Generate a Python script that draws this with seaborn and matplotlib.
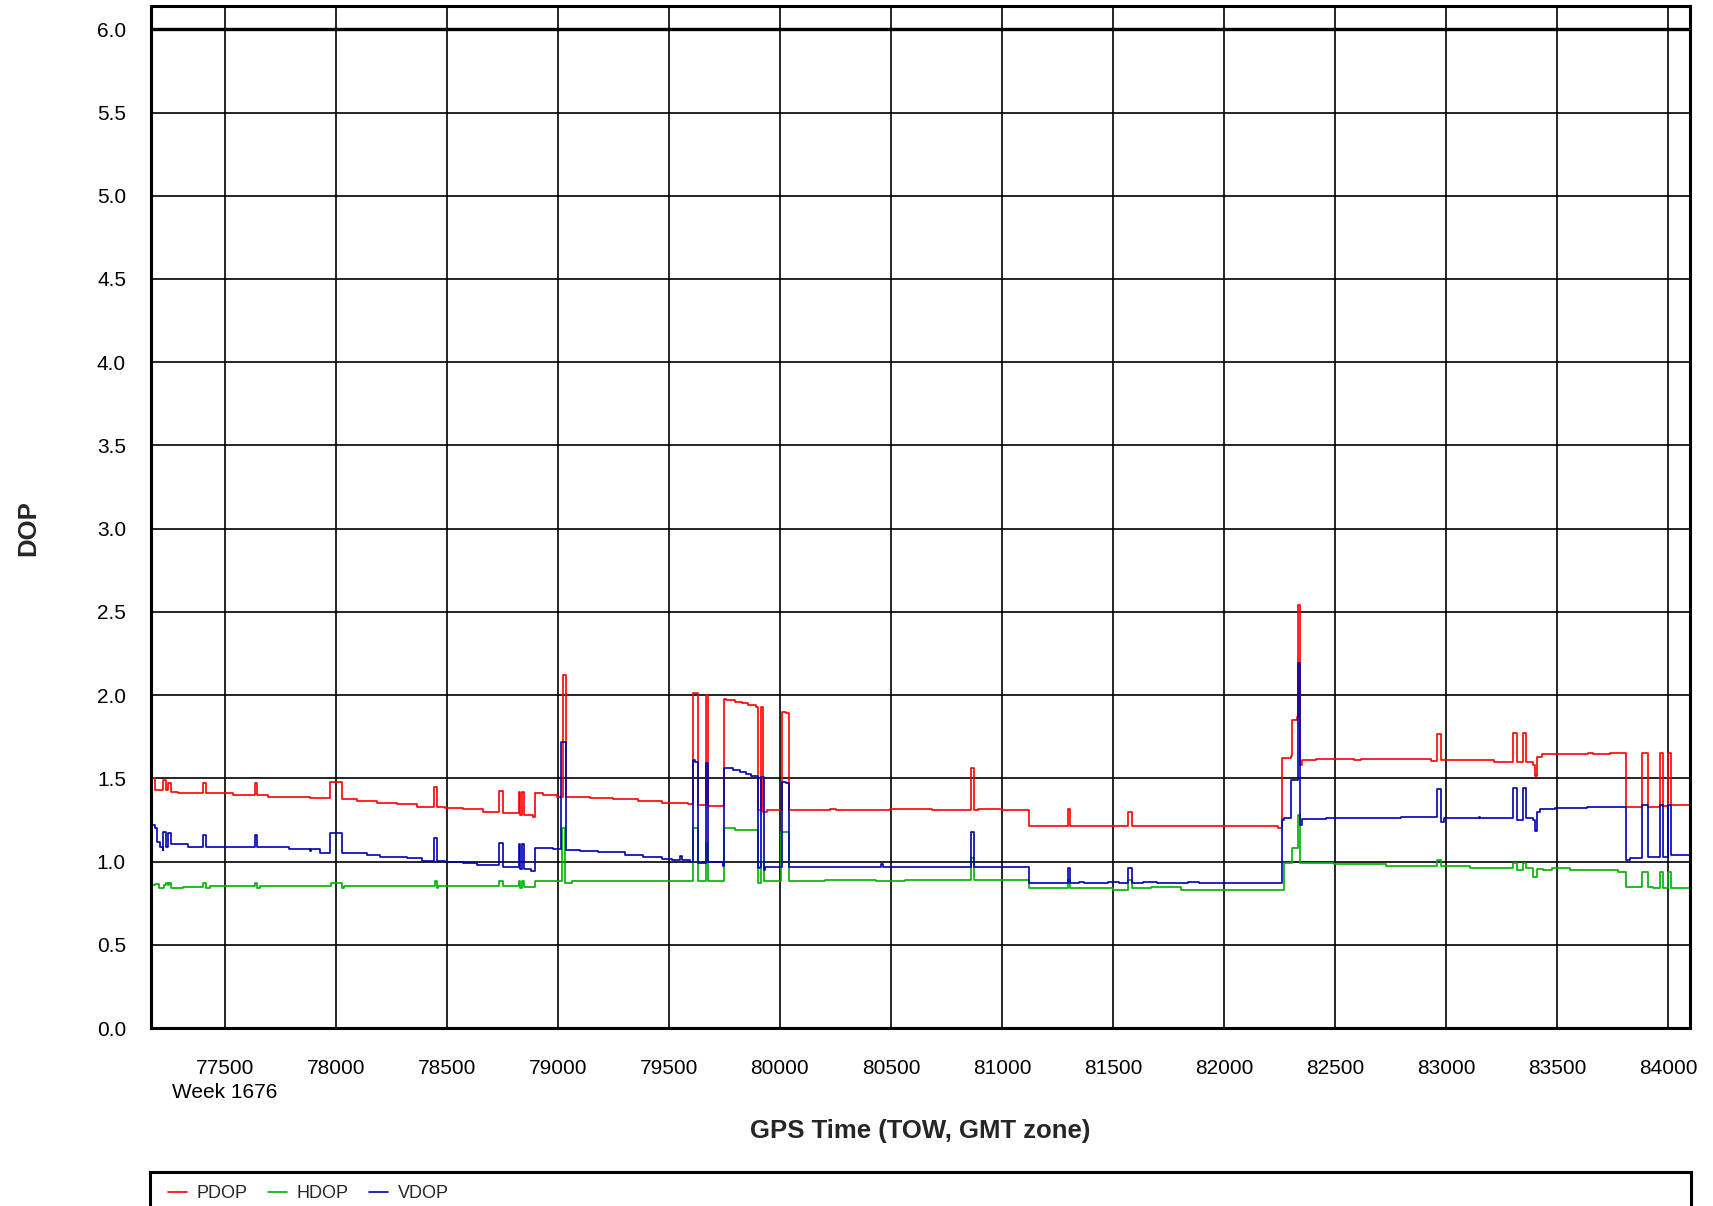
import matplotlib
matplotlib.use("Agg")
import matplotlib.pyplot as plt
import seaborn as sns
import pandas as pd

sns.set_style("white")
plt.rcParams['font.family'] = ['Liberation Sans', 'DejaVu Sans']

# GPS time of week (s) where each DOP value starts, and the value held from there
pdop_t = [77168, 77170, 77184, 77222, 77234, 77244, 77260, 77290, 77402, 77417, 77538, 77635, 77646, 77695,
          77883, 77973, 78026, 78094, 78184, 78274, 78364, 78442, 78454, 78492, 78575, 78665, 78737, 78752,
          78823, 78830, 78838, 78848, 78890, 78898, 78935, 78995, 79025, 79035, 79145, 79250, 79362, 79467,
          79527, 79587, 79609, 79632, 79669, 79677, 79699, 79747, 79759, 79797, 79827, 79857, 79894, 79902,
          79914, 79924, 79942, 80009, 80029, 80041, 80224, 80254, 80494, 80685, 80861, 80876, 80891, 81000,
          81120, 81296, 81308, 81566, 81584, 82241, 82263, 82301, 82308, 82328, 82335, 82343, 82353, 82413,
          82586, 82616, 82930, 82960, 82975, 83214, 83303, 83318, 83344, 83359, 83389, 83401, 83408, 83430,
          83640, 83662, 83737, 83812, 83882, 83909, 83961, 83976, 83999, 84013, 84098]
pdop_v = [1.69, 1.50, 1.43, 1.49, 1.43, 1.47, 1.42, 1.414, 1.47, 1.414, 1.40, 1.47, 1.40, 1.39,
          1.38, 1.48, 1.374, 1.366, 1.354, 1.344, 1.33, 1.45, 1.33, 1.32, 1.314, 1.30, 1.424, 1.29,
          1.42, 1.28, 1.42, 1.28, 1.27, 1.414, 1.40, 1.39, 2.12, 1.39, 1.384, 1.374, 1.364, 1.354,
          1.35, 1.344, 2.014, 1.34, 2.0, 1.336, 1.334, 1.974, 1.97, 1.96, 1.95, 1.94, 1.93, 1.31,
          1.93, 1.30, 1.31, 1.90, 1.894, 1.31, 1.318, 1.31, 1.318, 1.31, 1.564, 1.31, 1.318, 1.31,
          1.214, 1.314, 1.214, 1.30, 1.214, 1.20, 1.62, 1.634, 1.85, 1.87, 2.544, 1.58, 1.61, 1.616,
          1.61, 1.616, 1.606, 1.764, 1.61, 1.60, 1.77, 1.60, 1.77, 1.596, 1.58, 1.514, 1.63, 1.644,
          1.652, 1.644, 1.654, 1.33, 1.65, 1.33, 1.65, 1.336, 1.65, 1.34, 1.34]

hdop_t = [77168, 77172, 77184, 77206, 77228, 77236, 77244, 77250, 77260, 77313, 77402, 77417, 77432, 77635,
          77646, 77658, 77980, 78026, 78036, 78446, 78454, 78461, 78737, 78752, 78823, 78830, 78838, 78848,
          78898, 79017, 79032, 79062, 79609, 79632, 79669, 79677, 79747, 79797, 79902, 79917, 79927, 80005,
          80041, 80201, 80434, 80561, 80861, 80876, 81120, 81296, 81308, 81498, 81566, 81584, 81670, 81805,
          82271, 82305, 82335, 82343, 82496, 82728, 82960, 82975, 83109, 83303, 83318, 83344, 83359, 83389,
          83408, 83438, 83475, 83557, 83774, 83812, 83882, 83909, 83930, 83961, 83976, 83999, 84013, 84098]
hdop_v = [0.77, 0.86, 0.864, 0.84, 0.86, 0.874, 0.86, 0.874, 0.84, 0.85, 0.87, 0.84, 0.854, 0.87,
          0.84, 0.854, 0.874, 0.84, 0.854, 0.884, 0.84, 0.854, 0.884, 0.854, 0.884, 0.84, 0.884, 0.85,
          0.884, 1.2, 0.87, 0.884, 1.2, 0.884, 1.11, 0.884, 1.2, 1.19, 0.87, 1.0, 0.884, 1.18,
          0.884, 0.892, 0.884, 0.892, 1.02, 0.892, 0.84, 0.89, 0.84, 0.83, 0.89, 0.84, 0.846, 0.83,
          0.99, 1.084, 1.28, 0.994, 0.984, 0.974, 1.01, 0.974, 0.96, 0.99, 0.95, 0.99, 0.96, 0.91,
          0.956, 0.95, 0.96, 0.95, 0.94, 0.846, 0.94, 0.846, 0.84, 0.94, 0.84, 0.94, 0.84, 0.84]

vdop_t = [77168, 77169, 77172, 77184, 77195, 77210, 77220, 77222, 77234, 77244, 77260, 77335, 77402, 77417,
          77635, 77646, 77790, 77883, 77890, 77928, 77973, 78026, 78140, 78200, 78320, 78387, 78442, 78454,
          78492, 78575, 78635, 78737, 78752, 78823, 78830, 78838, 78848, 78880, 78898, 78980, 79015, 79035,
          79100, 79182, 79302, 79385, 79467, 79512, 79550, 79557, 79594, 79609, 79617, 79632, 79666, 79675,
          79687, 79744, 79747, 79789, 79819, 79849, 79872, 79902, 79909, 79917, 79927, 79932, 80009, 80029,
          80041, 80456, 80463, 80861, 80876, 81120, 81296, 81308, 81348, 81370, 81476, 81528, 81566, 81584,
          81633, 81700, 81836, 81885, 82263, 82271, 82301, 82331, 82341, 82353, 82458, 82795, 82960, 82975,
          82990, 83146, 83154, 83303, 83318, 83344, 83359, 83389, 83401, 83408, 83423, 83490, 83632, 83812,
          83827, 83882, 83909, 83961, 83976, 83999, 84013, 84098]
vdop_v = [1.30, 1.51, 1.22, 1.20, 1.12, 1.09, 1.07, 1.18, 1.09, 1.17, 1.104, 1.09, 1.16, 1.09,
          1.16, 1.09, 1.074, 1.064, 1.074, 1.054, 1.17, 1.054, 1.04, 1.03, 1.02, 1.006, 1.14, 1.006,
          1.0, 0.99, 0.98, 1.11, 0.97, 1.104, 0.954, 1.104, 0.954, 0.945, 1.084, 1.074, 1.72, 1.07,
          1.066, 1.056, 1.04, 1.03, 1.016, 1.01, 1.034, 1.01, 0.996, 1.61, 1.60, 0.994, 1.59, 1.0,
          0.996, 0.976, 1.564, 1.55, 1.536, 1.526, 1.516, 0.96, 0.97, 1.51, 0.95, 0.97, 1.48, 1.47,
          0.97, 0.984, 0.97, 1.18, 0.97, 0.87, 0.96, 0.87, 0.88, 0.87, 0.88, 0.87, 0.96, 0.87,
          0.88, 0.87, 0.88, 0.87, 1.25, 1.26, 1.49, 2.19, 1.22, 1.254, 1.264, 1.27, 1.434, 1.24,
          1.264, 1.27, 1.264, 1.44, 1.25, 1.44, 1.26, 1.25, 1.184, 1.30, 1.314, 1.32, 1.33, 1.01,
          1.024, 1.34, 1.03, 1.34, 1.03, 1.34, 1.04, 1.04]

x_ticks = list(range(77500, 84001, 500))
x_labels = [str(t) for t in x_ticks]
x_labels[0] = "77500\nWeek 1676"
y_ticks = [0.0, 0.5, 1.0, 1.5, 2.0, 2.5, 3.0, 3.5, 4.0, 4.5, 5.0, 5.5, 6.0]

series = [("PDOP", pdop_t, pdop_v, "#ff0000"),
          ("HDOP", hdop_t, hdop_v, "#00b000"),
          ("VDOP", vdop_t, vdop_v, "#0000b0")]

fig = plt.figure(figsize=(17.13, 12.06), dpi=100)
ax = fig.add_axes([151 / 1713, 1 - 1028 / 1206, 1539 / 1713, 1022 / 1206])

for name, t, v, col in series:
    df = pd.DataFrame({"t": t, "v": v})
    sns.lineplot(data=df, x="t", y="v", ax=ax, color=col, linewidth=1.2, label=name,
                 drawstyle="steps-post", estimator=None, sort=False)

ax.set_xlim(77168, 84098)
ax.set_ylim(0, 6.14)
ax.set_xticks(x_ticks)
ax.set_xticklabels(x_labels)
ax.get_xticklabels()[0].set_linespacing(1.33)
ax.set_yticks(y_ticks)
ax.set_yticklabels(["%.1f" % y for y in y_ticks])
ax.grid(True, color="black", linewidth=1.2)
ax.set_axisbelow(True)
ax.axhline(6.0, color="black", linewidth=2.4, zorder=1)
for s in ax.spines.values():
    s.set_visible(True)
    s.set_color("black")
    s.set_linewidth(2.2)
ax.tick_params(axis="both", direction="out", length=9, width=0.9, color="#444444",
               labelsize=15, labelcolor="black")
ax.tick_params(axis="x", pad=13)
ax.tick_params(axis="y", pad=9)

ax.set_xlabel("GPS Time (TOW, GMT zone)", fontsize=18.5, fontweight="bold")
ax.xaxis.set_label_coords(0.5, -0.0895)
ax.set_ylabel("DOP", fontsize=18.5, fontweight="bold")
ax.yaxis.set_label_coords(-0.072, 0.4888)

# legend in its own framed strip below the plot
handles, labels = ax.get_legend_handles_labels()
ax.get_legend().remove()
lax = fig.add_axes([150 / 1713, -2 / 1206, 1541 / 1713, 36 / 1206])
lax.set_xticks([])
lax.set_yticks([])
for s in lax.spines.values():
    s.set_visible(True)
    s.set_color("black")
    s.set_linewidth(2.2)
lax.legend(handles, labels, loc="center left", bbox_to_anchor=(0, 0.4), borderaxespad=0,
           borderpad=1.0, frameon=False, ncol=3, fontsize=13, handlelength=1.05,
           handletextpad=0.55, columnspacing=1.1)

fig.savefig("out.png", dpi=100)
